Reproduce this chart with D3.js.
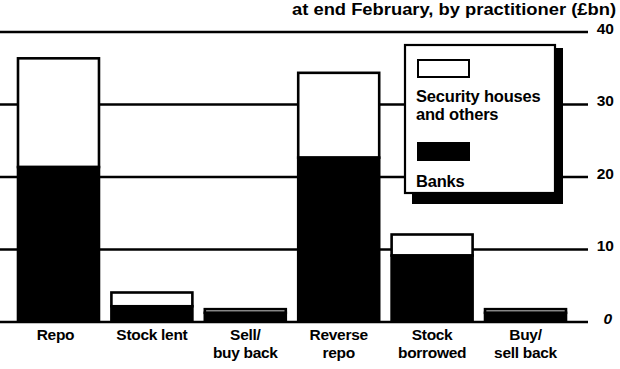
<!DOCTYPE html>
<html>
<head>
<meta charset="utf-8">
<script src="https://cdn.jsdelivr.net/npm/d3@7"></script>
<style>
  html, body { margin: 0; padding: 0; background: #fff; }
  svg { display: block; }
  text { font-family: "Liberation Sans", Arial, Helvetica, sans-serif; font-weight: bold; fill: #000; }
</style>
</head>
<body>
<svg id="chart" width="620" height="369"></svg>
<script>
// Amounts outstanding at end February, £bn, split by practitioner
const categories = ["Repo", "Stock lent", "Sell/ buy back", "Reverse repo", "Stock borrowed", "Buy/ sell back"];
const categoryLines = [["Repo"], ["Stock lent"], ["Sell/", "buy back"], ["Reverse", "repo"], ["Stock", "borrowed"], ["Buy/", "sell back"]];
const banks = [21.3, 2.1, 1.2, 22.6, 9.1, 1.2];
const securityHouses = [15.0, 1.9, 0.5, 11.7, 2.9, 0.5];
const yTicks = [0, 10, 20, 30, 40];
const yTickLabels = ["0", "10", "20", "30", "40"];
const title = "at end February, by practitioner (£bn)";
const legendLabels = [["Security houses", "and others"], ["Banks"]];

const svg = d3.select("#chart");

const x = d3.scaleBand()
  .domain(categories)
  .range([18, 566])
  .paddingInner(0.133)
  .paddingOuter(0);

const y = d3.scaleLinear()
  .domain([0, 40])
  .range([321.5, 31.5]);

// Title, right-aligned along the top edge, set wide
svg.append("text")
  .attr("x", 616)
  .attr("y", 14.5)
  .attr("text-anchor", "end")
  .attr("textLength", 324)
  .attr("lengthAdjust", "spacingAndGlyphs")
  .style("font-size", "16px")
  .text(title);

// Horizontal gridlines with value labels on the right
const yAxis = d3.axisRight(y)
  .tickValues(yTicks)
  .tickSize(588)
  .tickPadding(0)
  .tickFormat((d, i) => yTickLabels[i]);

const axisG = svg.append("g").call(yAxis);
axisG.select(".domain").remove();
axisG.selectAll(".tick line")
  .attr("stroke", "#000")
  .attr("stroke-width", 2.4);
axisG.selectAll(".tick text")
  .attr("x", 614)
  .attr("dy", "0.1em")
  .attr("text-anchor", "end")
  .style("font-size", "15.5px")
  .style("font-family", "\"Liberation Sans\", Arial, sans-serif")
  .style("font-weight", "bold")
  .style("font-style", d => d === 0 ? "italic" : "normal");
axisG.selectAll(".tick text").filter(d => d === 0).attr("x", 612);

// Stacked bars: banks (black) beneath security houses (white)
const bars = svg.append("g");
categories.forEach((c, i) => {
  const b = banks[i], s = securityHouses[i];
  bars.append("rect")
    .attr("x", x(c))
    .attr("y", y(b + s))
    .attr("width", x.bandwidth())
    .attr("height", y(b) - y(b + s))
    .attr("fill", "#fff")
    .attr("stroke", "#000")
    .attr("stroke-width", 2.6);
  bars.append("rect")
    .attr("x", x(c))
    .attr("y", y(b))
    .attr("width", x.bandwidth())
    .attr("height", y(0) - y(b))
    .attr("fill", "#000")
    .attr("stroke", "#000")
    .attr("stroke-width", 2.6);
});

// Category labels
const labels = svg.append("g");
categoryLines.forEach((lines, i) => {
  const t = labels.append("text")
    .attr("text-anchor", "middle")
    .style("font-size", "15.5px")
    .style("letter-spacing", "-0.3px");
  lines.forEach((ln, j) => {
    t.append("tspan")
      .attr("x", x(categories[i]) + x.bandwidth() / 2 - (i === 0 ? 3 : 0))
      .attr("y", 340 + j * 17.5)
      .text(ln);
  });
});

// Legend box with drop shadow
const lg = svg.append("g");
lg.append("rect")
  .attr("x", 412).attr("y", 48)
  .attr("width", 151).attr("height", 156)
  .attr("fill", "#000");
lg.append("rect")
  .attr("x", 405).attr("y", 45)
  .attr("width", 150).attr("height", 148)
  .attr("fill", "#fff")
  .attr("stroke", "#000")
  .attr("stroke-width", 2.2);
lg.append("rect")
  .attr("x", 418).attr("y", 60)
  .attr("width", 51).attr("height", 17)
  .attr("fill", "#fff")
  .attr("stroke", "#000")
  .attr("stroke-width", 2);
lg.append("rect")
  .attr("x", 417).attr("y", 142)
  .attr("width", 53).attr("height", 19)
  .attr("fill", "#000");
const lt1 = lg.append("text").style("font-size", "16.5px").style("letter-spacing", "-0.2px");
legendLabels[0].forEach((ln, j) => {
  lt1.append("tspan").attr("x", 416).attr("y", 102 + j * 18).text(ln);
});
lg.append("text")
  .attr("x", 416).attr("y", 187)
  .style("font-size", "16.5px")
  .style("letter-spacing", "-0.2px")
  .text(legendLabels[1][0]);
</script>
</body>
</html>
